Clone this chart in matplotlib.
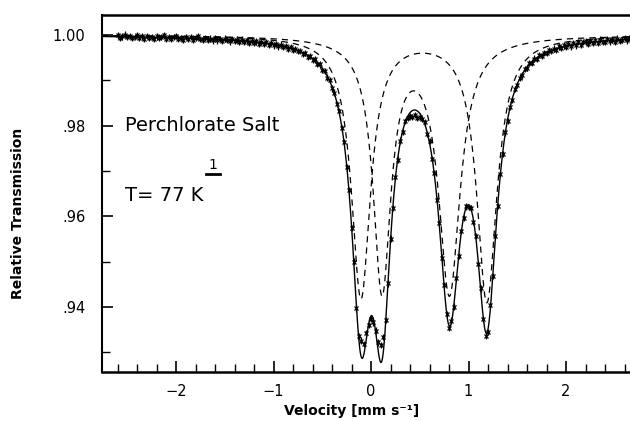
import numpy as np
import matplotlib
matplotlib.use("Agg")
import matplotlib.pyplot as plt
from matplotlib.ticker import MultipleLocator, FuncFormatter

# measured spectrum, one value per channel from -2.60 to 2.70 mm/s
velocity_start = -2.60
velocity_stop = 2.70
transmission = [
    0.9999, 0.9994, 0.9997, 1.0001, 0.9995, 0.9998, 0.9993, 0.9996, 1.0000, 0.9994,
    0.9997, 0.9992, 0.9998, 0.9994, 0.9996, 0.9991, 0.9997, 0.9993, 0.9995, 0.9999,
    0.9992, 0.9996, 0.9991, 0.9995, 0.9998, 0.9992, 0.9994, 0.9990, 0.9996, 0.9991,
    0.9995, 0.9990, 0.9993, 0.9997, 0.9991, 0.9989, 0.9994, 0.9990, 0.9992, 0.9988,
    0.9993, 0.9988, 0.9991, 0.9987, 0.9992, 0.9989, 0.9986, 0.9991, 0.9987, 0.9990,
    0.9985, 0.9990, 0.9984, 0.9988, 0.9983, 0.9987, 0.9982, 0.9986, 0.9981, 0.9985,
    0.9980, 0.9984, 0.9978, 0.9982, 0.9977, 0.9980, 0.9975, 0.9979, 0.9973, 0.9976,
    0.9970, 0.9973, 0.9967, 0.9969, 0.9964, 0.9965, 0.9958, 0.9960, 0.9952, 0.9953,
    0.9945, 0.9946, 0.9936, 0.9935, 0.9923, 0.9920, 0.9906, 0.9901, 0.9882, 0.9873,
    0.9848, 0.9832, 0.9794, 0.9764, 0.9708, 0.9658, 0.9574, 0.9500, 0.9397, 0.9336,
    0.9326, 0.9318, 0.9342, 0.9360, 0.9374, 0.9366, 0.9348, 0.9322, 0.9316, 0.9334,
    0.9372, 0.9452, 0.9551, 0.9619, 0.9687, 0.9725, 0.9767, 0.9786, 0.9810, 0.9817,
    0.9822, 0.9819, 0.9824, 0.9817, 0.9820, 0.9814, 0.9807, 0.9782, 0.9766, 0.9727,
    0.9695, 0.9636, 0.9585, 0.9509, 0.9448, 0.9384, 0.9354, 0.9370, 0.9401, 0.9464,
    0.9512, 0.9568, 0.9596, 0.9622, 0.9621, 0.9619, 0.9588, 0.9557, 0.9495, 0.9441,
    0.9374, 0.9336, 0.9345, 0.9404, 0.9469, 0.9557, 0.9623, 0.9693, 0.9737, 0.9785,
    0.9810, 0.9842, 0.9857, 0.9881, 0.9889, 0.9906, 0.9911, 0.9925, 0.9927, 0.9938,
    0.9939, 0.9948, 0.9947, 0.9956, 0.9954, 0.9961, 0.9960, 0.9967, 0.9964, 0.9970,
    0.9967, 0.9975, 0.9971, 0.9977, 0.9973, 0.9980, 0.9975, 0.9982, 0.9977, 0.9984,
    0.9978, 0.9984, 0.9986, 0.9981, 0.9987, 0.9982, 0.9988, 0.9983, 0.9990, 0.9985,
    0.9984, 0.9991, 0.9986, 0.9989, 0.9985, 0.9992, 0.9987, 0.9990, 0.9994, 0.9988,
    0.9993, 0.9988, 0.9992,
]
error_bar = 0.0007

# fitted Lorentzian doublets (line position, full width, depth)
site1_centers = [-0.103, 1.188]
site1_widths = [0.237, 0.251]
site1_depths = [0.0577, 0.0586]
site2_centers = [0.113, 0.804]
site2_widths = [0.219, 0.268]
site2_depths = [0.0556, 0.0563]


def doublet(v, centers, widths, depths):
    out = np.zeros_like(v)
    for c, w, d in zip(centers, widths, depths):
        out += d / (1 + ((v - c) / (w / 2)) ** 2)
    return out


velocity = np.linspace(velocity_start, velocity_stop, len(transmission))
v = np.linspace(-2.76, 2.66, 1500)
site1 = doublet(v, site1_centers, site1_widths, site1_depths)
site2 = doublet(v, site2_centers, site2_widths, site2_depths)

fig = plt.figure(figsize=(6.3, 4.21), dpi=100)
ax = fig.add_axes([0.1619, 0.1164, 0.8381, 0.8487])

ax.errorbar(velocity, transmission, yerr=error_bar, fmt="x", ms=3.5, mew=0.9,
            elinewidth=0.9, capsize=0, color="k")
ax.plot(v, 1 - site1 - site2, color="k", lw=1.0)
ax.plot(v, 1 - site1, color="k", lw=0.9, dashes=(5, 4))
ax.plot(v, 1 - site2, color="k", lw=0.9, dashes=(5, 4))

ax.set_xlim(-2.759, 2.656)
ax.set_ylim(0.92566, 1.00448)

ax.xaxis.set_major_locator(MultipleLocator(1))
ax.xaxis.set_minor_locator(MultipleLocator(0.2))
ax.yaxis.set_major_locator(MultipleLocator(0.02))
ax.yaxis.set_minor_locator(MultipleLocator(0.01))
ax.yaxis.set_major_formatter(
    FuncFormatter(lambda y, _: "1.00" if y > 0.999 else f"{y:.2f}"[1:]))
ax.tick_params(which="both", direction="in", top=False, right=False, labelsize=10.5)
ax.tick_params(which="major", length=8, width=1.2)
ax.tick_params(which="minor", length=6, width=1.0)
ax.tick_params(axis="x", pad=9)
ax.tick_params(axis="y", pad=12)

ax.spines["right"].set_visible(False)
ax.spines["top"].set_linewidth(1.8)
ax.spines["bottom"].set_linewidth(1.8)
ax.spines["left"].set_linewidth(1.5)

ax.set_ylabel("Relative Transmission", fontsize=10, fontweight="bold")
ax.yaxis.set_label_coords(-0.146, 0.445)
ax.set_xlabel("Velocity [mm s⁻¹]", fontsize=10, fontweight="bold")
ax.xaxis.set_label_coords(0.473, -0.09)

ax.text(-2.52, 0.98, "Perchlorate Salt", fontsize=14, ha="left", va="center")
ax.text(-2.52, 0.9647, "T= 77 K", fontsize=14, ha="left", va="center")
ax.text(-1.62, 0.9697, "1", fontsize=10, ha="center", va="bottom")
ax.plot([-1.69, -1.55], [0.9693, 0.9693], color="k", lw=2)

fig.savefig("out.png", dpi=100)
